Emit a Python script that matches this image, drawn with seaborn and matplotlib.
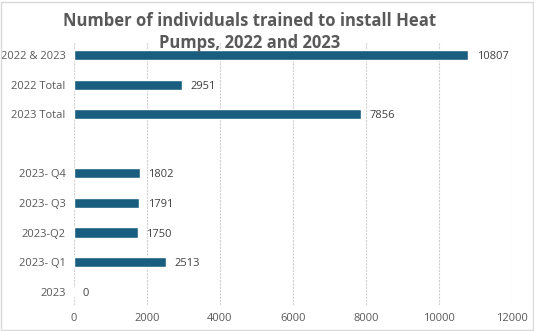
import matplotlib
matplotlib.use("Agg")
import matplotlib.pyplot as plt
import seaborn as sns
import pandas as pd
from matplotlib.patches import Rectangle

categories = ["2022 & 2023", "2022 Total", "2023 Total", " ", "2023- Q4", "2023- Q3", "2023-Q2", "2023- Q1", "2023"]
values = [10807, 2951, 7856, None, 1802, 1791, 1750, 2513, 0]
xticks = [0, 2000, 4000, 6000, 8000, 10000, 12000]
title = "Number of individuals trained to install Heat\nPumps, 2022 and 2023"

df = pd.DataFrame({"cat": categories, "val": values})

sns.set_theme(style="white")
plt.rcParams["font.family"] = ["Open Sans", "DejaVu Sans"]
text_color = "#595959"
bar_color = "#1A5E7F"

fig = plt.figure(figsize=(5.34, 3.31), dpi=100)
ax = fig.add_axes([74/534, 1-305/331, (512-74)/534, (305-42)/331])

sns.barplot(data=df, y="cat", x="val", order=categories, color=bar_color,
            width=0.34, orient="h", ax=ax, saturation=1)

for i, v in enumerate(values):
    if v is None:
        continue
    ax.annotate(f"{v}", xy=(v, i), xytext=(6, 0), textcoords="offset points",
                va="center_baseline", ha="left", fontsize=8, color="#404040")

ax.set_xlim(0, 12000)
ax.set_ylim(len(categories) - 0.55, -0.44)
ax.set_xticks(xticks)
ax.set_xticklabels([str(t) for t in xticks])
ax.set_xlabel("")
ax.set_ylabel("")
ax.tick_params(axis="both", labelsize=8, labelcolor=text_color, length=0)
ax.tick_params(axis="x", pad=6)
ax.tick_params(axis="y", pad=6)
ax.xaxis.grid(True, color="#D0D0D0", linestyle=(0, (2, 1)), linewidth=0.8)
ax.yaxis.grid(False)
ax.set_axisbelow(True)
for s in ax.spines.values():
    s.set_visible(False)

fig.text(250/534, 1-32/331, title, ha="center", va="center", fontsize=12,
         fontweight="bold", color=text_color, linespacing=1.35)

fig.patches.append(Rectangle((0.002, 0.004), 0.996, 0.99, transform=fig.transFigure,
                             fill=False, edgecolor="#D9D9D9", linewidth=1))

fig.savefig("out.png", dpi=100)
